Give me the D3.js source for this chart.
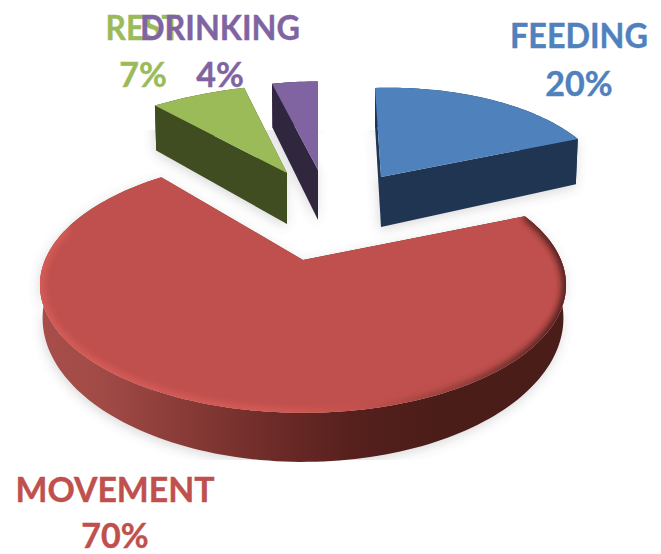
<!DOCTYPE html>
<html>
<head>
<meta charset="utf-8">
<style>
  html, body { margin: 0; background: #fff; }
  svg { display: block; }
  text { font-family: Lato, "Open Sans", sans-serif; font-weight: 700; font-size: 34px; text-anchor: middle; stroke-width: 0.4; }
</style>
<script src="https://cdn.jsdelivr.net/npm/d3@7"></script>
</head>
<body>
<svg></svg>
<script>

var categories = ["FEEDING", "MOVEMENT", "REST", "DRINKING"],
    values = [20, 70, 7, 4],
    top_colours = ["#4f81bd", "#c0504d", "#9bbb59", "#8064a2"],
    wall_colours = ["#1f3552", "url(#rim)", "#3f4d20", "#30273f"];

// where each exploded slice landed: apex, scale, small skew, wall height
var slices = [
  {x: 381, y: 177, s: 0.865, m: [1, 0.067, -0.03, 1], depth: 50, slope: 0.12, trim: 0},
  {x: 303, y: 260, s: 1, m: [1, 0, 0, 1], depth: 30, slope: 0.125, trim: -0.066},
  {x: 287, y: 173, s: 0.84, m: [1.18, -0.12, -0.035, 1.03], depth: 51, slope: 0.09, trim: 0},
  {x: 318, y: 170, s: 0.86, m: [1, 0, 0, 1], depth: 50, slope: 0.07, trim: 0}
];

var labels = [
  {x: 579, y1: 48, y2: 96, w: 138},
  {x: 115, y1: 502, y2: 548, w: 199},
  {x: 143, y1: 40, y2: 87, w: 75},
  {x: 220, y1: 40, y2: 87, w: 160}
];

var width = 661,
    height = 554,
    radius = 258,
    tilt = 123,
    persp = 0.195,
    svg = d3.select("svg").attr("width", width).attr("height", height);

var arcs = d3.pie().sort(null).value(d => d)(values);
var line = d3.line();

// flat disc to screen, with a bit of perspective
function project(a, r, sl) {
  var u = r * Math.sin(a),
      v = r * Math.cos(a),
      w = 1 + persp * v,
      X = sl.s * radius * u / w,
      Y = -sl.s * tilt * v / w;
  return [sl.x + sl.m[0] * X + sl.m[1] * Y, sl.y + sl.m[2] * X + sl.m[3] * Y];
}

function rim(d, sl) {
  var a0 = d.startAngle + sl.trim,
      a1 = d.endAngle,
      n = Math.ceil((a1 - a0) * 40);
  return d3.range(n + 1).map(i => project(a0 + (a1 - a0) * i / n, 1, sl));
}

function drop(p, sl) {
  return [sl.x + (p[0] - sl.x) * 0.99, p[1] + sl.depth + sl.slope * (p[1] - sl.y)];
}

var defs = svg.append("defs");

var rim_grad = defs.append("linearGradient").attr("id", "rim")
    .attr("gradientUnits", "userSpaceOnUse")
    .attr("x1", 42).attr("x2", 568).attr("y1", 0).attr("y2", 0);
[[0, "#a84e4a"], [0.12, "#a04a46"], [0.25, "#8c3d39"], [0.42, "#702d2a"], [0.6, "#551f1c"], [0.75, "#4b1d19"], [1, "#4a1d1a"]]
  .forEach(s => rim_grad.append("stop").attr("offset", s[0]).attr("stop-color", s[1]));

var bevel_grad = defs.append("linearGradient").attr("id", "bevel")
    .attr("gradientUnits", "userSpaceOnUse")
    .attr("x1", 42).attr("x2", 568).attr("y1", 0).attr("y2", 0);
[[0, "#d85d58"], [0.45, "#d65b56"], [0.62, "#c0504d"], [0.8, "#8a3a36"], [0.97, "#4a1d1a"], [1, "#4a1d1a"]]
  .forEach(s => bevel_grad.append("stop").attr("offset", s[0]).attr("stop-color", s[1]));

defs.append("filter").attr("id", "soft").attr("x", "-20%").attr("y", "-20%").attr("width", "140%").attr("height", "140%")
  .append("feGaussianBlur").attr("stdDeviation", 6);
defs.append("filter").attr("id", "edge").attr("x", "-10%").attr("y", "-10%").attr("width", "120%").attr("height", "120%")
  .append("feGaussianBlur").attr("stdDeviation", 3);

defs.append("clipPath").attr("id", "shadow_clip")
  .append("rect").attr("x", 0).attr("y", 130).attr("width", width).attr("height", 330);

function top_path(d, sl) {
  return line([[sl.x, sl.y]].concat(rim(d, sl))) + "Z";
}

function prism_paths(d, sl) {
  var r = rim(d, sl),
      apex = [sl.x, sl.y],
      first = r[0],
      last = r[r.length - 1];
  return [
    line(r.concat(r.map(p => drop(p, sl)).reverse())) + "Z",
    line([apex, first, drop(first, sl), drop(apex, sl)]) + "Z",
    line([apex, last, drop(last, sl), drop(apex, sl)]) + "Z"
  ];
}

// soft grey shadow
var shadow = svg.append("g").attr("clip-path", "url(#shadow_clip)")
  .append("g").attr("filter", "url(#soft)").attr("opacity", 0.22).attr("transform", "translate(-1,3)");
arcs.forEach((d, i) => {
  prism_paths(d, slices[i]).forEach(p => shadow.append("path").attr("d", p).attr("fill", "#555"));
});

// walls, then top faces
var pie = svg.append("g");
arcs.forEach((d, i) => {
  var sl = slices[i], g = pie.append("g");
  g.selectAll("path.wall").data(prism_paths(d, sl)).join("path")
      .attr("class", "wall")
      .attr("d", p => p)
      .attr("fill", wall_colours[i]);
  g.append("path").attr("d", top_path(d, sl)).attr("fill", top_colours[i]);
});

// rounded edge of the big slice, fades out above the widest point
var big = arcs[1], big_sl = slices[1];
defs.append("clipPath").attr("id", "big_clip")
  .append("path").attr("d", top_path(big, big_sl));
var bevel_part = Object.assign({}, big, {endAngle: big.startAngle + (big.endAngle - big.startAngle) * 0.86});
pie.append("g").attr("clip-path", "url(#big_clip)")
  .append("path")
    .attr("d", line(rim(bevel_part, big_sl)))
    .attr("fill", "none")
    .attr("stroke", "url(#bevel)")
    .attr("stroke-width", 8)
    .attr("filter", "url(#edge)");

// labels
var label = svg.append("g").selectAll("g").data(categories).join("g")
    .attr("fill", (d, i) => top_colours[i])
    .attr("stroke", (d, i) => top_colours[i]);
label.append("text")
    .attr("x", (d, i) => labels[i].x)
    .attr("y", (d, i) => labels[i].y1)
    .attr("textLength", (d, i) => labels[i].w)
    .attr("lengthAdjust", "spacingAndGlyphs")
    .text(d => d);
label.append("text")
    .attr("x", (d, i) => labels[i].x)
    .attr("y", (d, i) => labels[i].y2)
    .text((d, i) => values[i] + "%");

</script>
</body>
</html>
